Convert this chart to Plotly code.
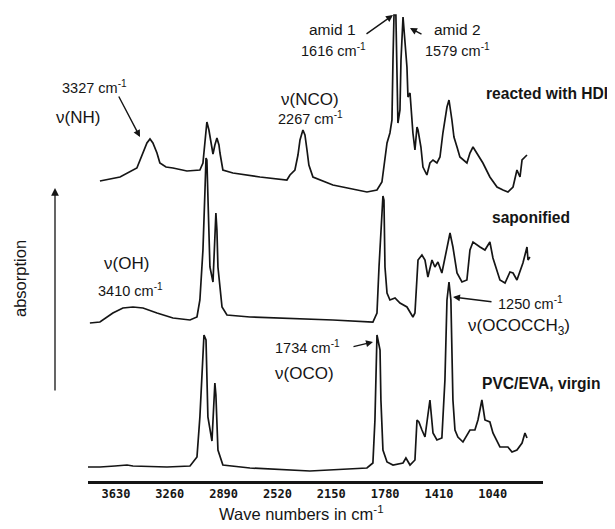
import plotly.graph_objects as go

# ---------------- data (wavenumbers in axis units, absorption in arbitrary stacked units)
tick_values = [3630, 3260, 2890, 2520, 2150, 1780, 1410, 1040]
tick_labels = ["3630", "3260", "2890", "2520", "2150", "1780", "1410", "1040"]

hdi_wn = [3740, 3602, 3486, 3444, 3417, 3396, 3376, 3348, 3328, 3286, 3238, 3142, 3053, 3032,
          3018, 3005, 2991, 2970, 2963, 2950, 2936, 2922, 2915, 2895, 2826, 2640, 2455, 2434,
          2400, 2379, 2365, 2345, 2331, 2317, 2304, 2276, 2139, 1905, 1836, 1802, 1781, 1767,
          1747, 1733, 1726, 1719, 1706, 1699, 1692, 1678, 1671, 1657, 1644, 1630, 1623, 1609,
          1589, 1575, 1561, 1554, 1534, 1520, 1493, 1472, 1451, 1424, 1403, 1383, 1355, 1341,
          1321, 1307, 1286, 1266, 1218, 1197, 1176, 1149, 1108, 1060, 1011, 970, 936, 901,
          874, 853, 839, 819, 805]
hdi_abs = [300, 304, 313, 328, 338, 342, 338, 328, 318, 314, 313, 310, 311, 318,
           341, 359, 351, 334, 327, 336, 343, 336, 328, 311, 308, 304, 301, 306,
           311, 326, 341, 351, 346, 331, 316, 304, 296, 289, 291, 299, 324, 338,
           348, 361, 421, 466, 466, 421, 358, 371, 421, 464, 441, 414, 384, 388,
           348, 331, 354, 351, 334, 314, 306, 318, 321, 318, 324, 348, 374, 381,
           361, 344, 334, 324, 318, 328, 334, 328, 318, 304, 294, 291, 289, 294,
           311, 304, 321, 324, 326]

sap_wn = [3809, 3740, 3651, 3582, 3513, 3444, 3348, 3238, 3121, 3073, 3053, 3032, 3018, 3011,
          3005, 2998, 2984, 2963, 2950, 2943, 2936, 2929, 2901, 2867, 2709, 2297, 2139, 1864,
          1836, 1822, 1809, 1795, 1788, 1781, 1767, 1747, 1712, 1678, 1630, 1589, 1575, 1554,
          1527, 1506, 1486, 1458, 1438, 1417, 1390, 1355, 1334, 1314, 1286, 1252, 1218, 1197,
          1176, 1128, 1094, 1060, 1039, 991, 956, 922, 901, 874, 853, 833, 819, 805, 798, 785]
sap_abs = [158, 159, 168, 173, 174, 173, 168, 163, 161, 164, 181, 231, 291, 323,
           321, 281, 214, 199, 241, 268, 251, 214, 174, 166, 164, 162, 161, 159,
           168, 214, 254, 285, 281, 214, 188, 181, 183, 178, 174, 164, 168, 221,
           226, 221, 204, 221, 214, 219, 208, 231, 248, 234, 208, 199, 201, 231,
           239, 234, 231, 239, 223, 201, 198, 209, 208, 201, 209, 218, 226, 234, 221, 224]

vir_wn = [3898, 3829, 3740, 3637, 3554, 3513, 3279, 3121, 3073, 3053, 3039, 3025, 3011, 2998,
          2970, 2957, 2950, 2943, 2929, 2895, 2709, 2297, 1905, 1864, 1850, 1836, 1822, 1815,
          1809, 1795, 1767, 1726, 1657, 1637, 1609, 1575, 1561, 1548, 1527, 1506, 1486, 1472,
          1451, 1424, 1390, 1369, 1355, 1341, 1328, 1314, 1300, 1280, 1245, 1197, 1163, 1142,
          1115, 1094, 1060, 1039, 991, 936, 908, 874, 839, 819, 805]
vir_abs = [14, 14, 14, 15, 16, 15, 14, 15, 24, 64, 111, 146, 141, 64,
           40, 71, 98, 86, 31, 16, 13, 10, 13, 18, 61, 146, 136, 131,
           81, 31, 19, 16, 18, 23, 16, 21, 61, 59, 51, 44, 66, 81,
           48, 41, 43, 101, 181, 199, 181, 81, 51, 44, 39, 51, 51, 61,
           81, 61, 59, 48, 34, 34, 29, 31, 38, 48, 43]

# ---------------- layout geometry (pixels of the 615x529 window; page body has an 8px margin)
WIN_W, WIN_H, OFF = 615, 529, 8
W, H = WIN_W - OFF, WIN_H - OFF
AXIS_Y, AXIS_X0, AXIS_X1 = 481, 88, 543
L, R, T, B = AXIS_X0 - OFF, WIN_W - AXIS_X1, 0, WIN_H - AXIS_Y
PW, PH = W - L - R, H - T - B


def P(px, py):
    """window pixel position -> paper coordinates"""
    return (px - AXIS_X0) / PW, (AXIS_Y - py) / PH


FONT = "Arial, Liberation Sans, sans-serif"
INK = "#151515"
LINE = dict(color=INK, width=1.7)

fig = go.Figure()
for wn, ab in ((vir_wn, vir_abs), (sap_wn, sap_abs), (hdi_wn, hdi_abs)):
    fig.add_trace(go.Scatter(x=wn, y=ab, mode="lines", line=LINE,
                             hoverinfo="skip", showlegend=False))

annotations = []


def text(px, py, s, size=14.5, bold=False, angle=0):
    x, y = P(px, py)
    annotations.append(dict(xref="paper", yref="paper", x=x, y=y, text=f"<b>{s}</b>" if bold else s,
                            showarrow=False, xanchor="center", yanchor="middle", textangle=angle,
                            font=dict(family=FONT, size=size, color=INK)))


def arrow(hx, hy, tx, ty, head=2, size=1.0, width=1.4):
    x, y = P(hx, hy)
    annotations.append(dict(xref="paper", yref="paper", x=x, y=y, text="", showarrow=True,
                            ax=tx - hx, ay=ty - hy, arrowhead=head, arrowsize=size,
                            arrowwidth=width, arrowcolor=INK, standoff=0, startstandoff=0))


CM = "cm<sup>-1</sup>"
NUM, NU, AM, BOLD = 14.5, 17, 15.5, 15.6
# reacted with HDI
text(94, 87, "3327 " + CM, NUM)
text(78, 118, "\u03bd(NH)", NU)
arrow(140, 137, 118, 95)
text(310, 100, "\u03bd(NCO)", NU)
text(310, 118, "2267 " + CM, NUM)
text(332, 30, "amid 1", AM)
text(333, 50, "1616 " + CM, NUM)
arrow(393, 15, 365, 35)
text(457, 30, "amid 2", AM)
text(457, 50, "1579 " + CM, NUM)
arrow(410, 28, 423, 35)
text(547, 94, "reacted with HDI", BOLD, bold=True)
# saponified
text(126, 263, "\u03bd(OH)", NU)
text(130, 290, "3410 " + CM, NUM)
text(531, 217, "saponified", BOLD, bold=True)
text(530, 303, "1250 " + CM, NUM)
text(519, 327, "\u03bd(OCOCCH<sub>3</sub>)", NU)
arrow(453, 297, 493, 302)
# virgin
text(307, 347, "1734 " + CM, NUM)
text(304, 373, "\u03bd(OCO)", NU)
arrow(373, 342, 352, 347)
text(541, 383, "PVC/EVA, virgin", BOLD, bold=True)
# absorption arrow + label
arrow(55, 188, 55, 392, head=2, size=1.2, width=1.3)
text(20, 279, "absorption", 16.5, angle=-90)
text(301, 513, "Wave numbers in " + CM, 16.5)

fig.update_layout(
    width=W, height=H, margin=dict(l=L, r=R, t=T, b=B),
    paper_bgcolor="white", plot_bgcolor="white",
    annotations=annotations,
    xaxis=dict(range=[3822, 695], tickmode="array", tickvals=tick_values, ticktext=tick_labels,
               showline=True, linecolor=INK, linewidth=2.5, ticks="", showgrid=False,
               zeroline=False,
               tickfont=dict(family="DejaVu Sans Mono", size=12, color=INK, weight="bold")),
    yaxis=dict(range=[0, PH], visible=False, showgrid=False, zeroline=False),
)

fig.write_html("out.html")
